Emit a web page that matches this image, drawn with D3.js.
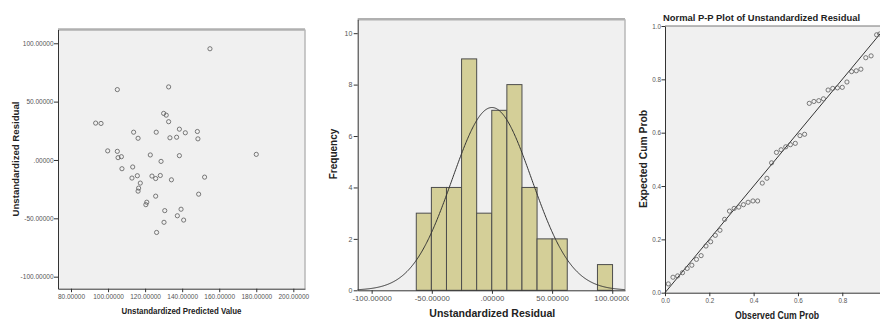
<!DOCTYPE html>
<meta charset="utf-8">
<head>
<style>
  body { margin: 0; background: #fff; }
  svg { display: block; }
  .tick text { font-family: 'Liberation Sans', Arial, sans-serif; fill: #555; }
  .tick line, .domain { stroke: #333; }
  .ttl { font-family: 'Liberation Sans', Arial, sans-serif; font-weight: bold; fill: #222; text-anchor: middle; }
</style>
</head>
<body>
<svg id="chart" width="880" height="322"></svg>
<script src="https://d3js.org/d3.v7.min.js"></script>
<script>

// scatter: predicted value vs residual
var predicted = [155.0, 105.0, 132.7, 130.0, 131.4, 132.7, 93.3, 96.2, 113.8, 116.2, 126.0, 138.5,
  141.7, 133.4, 137.0, 148.2, 148.5, 99.8, 105.0, 105.4, 107.2, 122.8, 138.5, 128.6, 180.0,
  107.5, 113.3, 112.9, 115.8, 123.7, 125.7, 128.2, 134.2, 152.1, 117.4, 116.5, 116.2, 125.7,
  148.9, 120.9, 120.4, 130.6, 139.4, 137.4, 140.8, 130.2, 126.2];
var residual = [95.3, 60.3, 62.6, 39.9, 38.4, 32.8, 31.6, 31.3, 23.8, 18.6, 23.8, 26.4,
  23.3, 19.0, 19.5, 24.4, 18.1, 7.8, 7.4, 2.0, 2.8, 4.3, 3.7, -1.2, 4.8,
  -7.5, -6.0, -15.5, -13.5, -13.8, -15.9, -13.3, -17.0, -14.7, -19.8, -24.1, -26.7, -31.0,
  -29.3, -36.2, -38.3, -43.4, -42.2, -47.8, -51.5, -53.4, -62.1];
var scatterXTicks = [80, 100, 120, 140, 160, 180, 200];
var scatterXLabels = ["80.00000", "100.00000", "120.00000", "140.00000", "160.00000", "180.00000", "200.00000"];
var scatterYTicks = [-100, -50, 0, 50, 100];
var scatterYLabels = ["-100.00000", "-50.00000", ".00000", "50.00000", "100.00000"];

// histogram of residuals
var binStart = -62.9;
var binWidth = 12.55;
var binCounts = [3, 4, 4, 9, 3, 7, 8, 4, 2, 2, 0, 0, 1];
var histXTicks = [-100, -50, 0, 50, 100];
var histXLabels = ["-100.00000", "-50.00000", ".00000", "50.00000", "100.00000"];
var histYTicks = [0, 2, 4, 6, 8, 10];
var curveMean = 0, curveSD = 33.1, curveN = 47;

// normal P-P plot
var ppObserved = [0.015, 0.036, 0.057, 0.079, 0.100, 0.121, 0.142, 0.163, 0.185, 0.206, 0.227, 0.248,
  0.269, 0.291, 0.312, 0.333, 0.354, 0.375, 0.397, 0.418, 0.439, 0.460, 0.481, 0.503, 0.524,
  0.545, 0.566, 0.588, 0.609, 0.630, 0.651, 0.672, 0.694, 0.715, 0.736, 0.757, 0.778, 0.800,
  0.821, 0.842, 0.863, 0.884, 0.906, 0.930, 0.955, 0.969, 0.991];
var ppExpected = [0.033, 0.058, 0.063, 0.075, 0.091, 0.103, 0.125, 0.139, 0.175, 0.191, 0.215, 0.234,
  0.275, 0.306, 0.316, 0.321, 0.330, 0.339, 0.344, 0.344, 0.411, 0.429, 0.487, 0.526, 0.536,
  0.547, 0.555, 0.560, 0.589, 0.594, 0.710, 0.717, 0.720, 0.727, 0.760, 0.766, 0.768, 0.770,
  0.790, 0.829, 0.832, 0.838, 0.881, 0.888, 0.967, 0.970, 0.998];
var ppXTicks = [0, 0.2, 0.4, 0.6, 0.8];   // 1.0 falls past the right edge
var ppYTicks = [0, 0.2, 0.4, 0.6, 0.8, 1.0];
var ppLabels = ["0.0", "0.2", "0.4", "0.6", "0.8", "1.0"];


var svg = d3.select("#chart");
var defs = svg.append("defs");

// plot box with spss-ish frame: dark left/bottom, pale top/right
function box(g, x0, y0, x1, y1) {
  g.append("rect").attr("x", x0).attr("y", y0).attr("width", x1 - x0).attr("height", y1 - y0)
    .attr("fill", "#f0f0f0");
}
function frame(g, x0, y0, x1, y1, topCol, topW) {
  g.append("line").attr("x1", x0).attr("x2", x1).attr("y1", y0).attr("y2", y0)
    .attr("stroke", topCol).attr("stroke-width", topW);
  g.append("line").attr("x1", x1).attr("x2", x1).attr("y1", y0).attr("y2", y1)
    .attr("stroke", "#b8b8b8").attr("stroke-width", 1.5);
}
function styleAxis(ax, size) {
  ax.selectAll("text").style("font-size", size + "px");
  ax.selectAll(".tick line").attr("stroke", "#333");
  ax.select(".domain").attr("stroke", "#333");
}
function title(g, txt, x, y, size, len, rot) {
  var t = g.append("text").attr("class", "ttl")
    .attr("x", rot ? 0 : x).attr("y", rot ? 0 : y).attr("dy", "0.35em")
    .style("font-size", size + "px").text(txt);
  if (len) t.attr("textLength", len).attr("lengthAdjust", "spacingAndGlyphs");
  if (rot) t.attr("transform", "translate(" + x + "," + y + ") rotate(-90)");
  return t;
}

// ---- panel 1: scatter ----
var p1 = svg.append("g");
var L1 = 58, R1 = 305, T1 = 29.5, B1 = 288.7;
var x1 = d3.scaleLinear().domain([72.98, 206.3]).range([L1, R1]);
var y1 = d3.scaleLinear().domain([-110.3, 111.8]).range([B1, T1]);
box(p1, L1, T1, R1, B1);
frame(p1, L1, T1, R1, B1, "#b0b0b0", 2.5);

p1.selectAll("circle").data(predicted).enter().append("circle")
  .attr("cx", function (d) { return x1(d); })
  .attr("cy", function (d, i) { return y1(residual[i]); })
  .attr("r", 2.1).attr("fill", "none").attr("stroke", "#5a5a5a").attr("stroke-width", 0.8);

var ax1 = p1.append("g").attr("transform", "translate(" + L1 + ",0)")
  .call(d3.axisLeft(y1).tickValues(scatterYTicks).tickSize(4).tickPadding(0.5).tickSizeOuter(0)
    .tickFormat(function (d, i) { return scatterYLabels[i]; }));
styleAxis(ax1, 6.5);
var bx1 = p1.append("g").attr("transform", "translate(0," + B1 + ")")
  .call(d3.axisBottom(x1).tickValues(scatterXTicks).tickSize(3.5).tickPadding(2.2).tickSizeOuter(0)
    .tickFormat(function (d, i) { return scatterXLabels[i]; }));
styleAxis(bx1, 6.5);

title(p1, "Unstandardized Predicted Value", 181.5, 311, 9, 120);
title(p1, "Unstandardized Residual", 16, 159, 9, 115, true);

// ---- panel 2: histogram ----
defs.append("clipPath").attr("id", "clip2").append("rect")
  .attr("x", 320).attr("y", 0).attr("width", 309).attr("height", 322);
var p2 = svg.append("g").attr("clip-path", "url(#clip2)");
var L2 = 357.7, R2 = 625, T2 = 19.3, B2 = 290.3;
var x2 = d3.scaleLinear().domain([-111.6, 110.6]).range([L2, R2]);
var y2 = d3.scaleLinear().domain([0, 10.54]).range([B2, T2]);
box(p2, L2, T2, R2, B2);
frame(p2, L2, T2, R2, B2, "#b0b0b0", 2.5);

var bins = binCounts.map(function (c, i) {
  return { lo: binStart + i * binWidth, hi: binStart + (i + 1) * binWidth, n: c };
}).filter(function (b) { return b.n > 0; });

p2.selectAll("rect.bar").data(bins).enter().append("rect").attr("class", "bar")
  .attr("x", function (b) { return x2(b.lo); })
  .attr("width", function (b) { return x2(b.hi) - x2(b.lo); })
  .attr("y", function (b) { return y2(b.n); })
  .attr("height", function (b) { return y2(0) - y2(b.n); })
  .attr("fill", "#d4cf98").attr("stroke", "#4d4d4d").attr("stroke-width", 1);

// fitted normal curve
var curvePts = d3.range(-111.6, 110.7, 0.5).map(function (v) {
  var z = (v - curveMean) / curveSD;
  return [v, curveN * binWidth * Math.exp(-0.5 * z * z) / (curveSD * Math.sqrt(2 * Math.PI))];
});
p2.append("path").datum(curvePts)
  .attr("d", d3.line().x(function (d) { return x2(d[0]); }).y(function (d) { return y2(d[1]); }))
  .attr("fill", "none").attr("stroke", "#333").attr("stroke-width", 1);

var ax2 = p2.append("g").attr("transform", "translate(" + L2 + ",0)")
  .call(d3.axisLeft(y2).tickValues(histYTicks).tickSize(4).tickPadding(1.4).tickSizeOuter(0));
styleAxis(ax2, 7);
var bx2 = p2.append("g").attr("transform", "translate(0," + B2 + ")")
  .call(d3.axisBottom(x2).tickValues(histXTicks).tickSize(3.5).tickPadding(1.7).tickSizeOuter(0)
    .tickFormat(function (d, i) { return histXLabels[i]; }));
styleAxis(bx2, 7.8);

title(p2, "Unstandardized Residual", 492.3, 313.5, 11, 126);
title(p2, "Frequency", 333.5, 154, 10, 0, true);

// ---- panel 3: P-P plot ----
var p3 = svg.append("g");
var L3 = 665, R3 = 886.6, T3 = 26, B3 = 292.7;
var x3 = d3.scaleLinear().domain([0, 1]).range([L3, R3]);
var y3 = d3.scaleLinear().domain([0, 1]).range([B3, T3]);
box(p3, L3, T3, R3, B3);
p3.append("line").attr("x1", L3).attr("x2", R3).attr("y1", T3).attr("y2", T3)
  .attr("stroke", "#777").attr("stroke-width", 1);

p3.append("path").datum([[0, 0], [1, 1]])
  .attr("d", d3.line().x(function (d) { return x3(d[0]); }).y(function (d) { return y3(d[1]); }))
  .attr("stroke", "#333").attr("stroke-width", 1);

p3.selectAll("circle").data(ppObserved).enter().append("circle")
  .attr("cx", function (d) { return x3(d); })
  .attr("cy", function (d, i) { return y3(ppExpected[i]); })
  .attr("r", 2.1).attr("fill", "none").attr("stroke", "#5a5a5a").attr("stroke-width", 0.8);

var ax3 = p3.append("g").attr("transform", "translate(" + L3 + ",0)")
  .call(d3.axisLeft(y3).tickValues(ppYTicks).tickSize(3.5).tickPadding(0.5).tickSizeOuter(0)
    .tickFormat(function (d, i) { return ppLabels[i]; }));
styleAxis(ax3, 6.3);
var bx3 = p3.append("g").attr("transform", "translate(0," + B3 + ")")
  .call(d3.axisBottom(x3).tickValues(ppXTicks).tickSize(3.5).tickPadding(2.8).tickSizeOuter(0)
    .tickFormat(function (d, i) { return ppLabels[i]; }));
styleAxis(bx3, 6.3);

title(p3, "Normal P-P Plot of Unstandardized Residual", 761.5, 18, 9.5, 197);
title(p3, "Observed Cum Prob", 777, 315.5, 10, 84);
title(p3, "Expected Cum Prob", 643, 159, 10, 98, true);

</script>
</body>
